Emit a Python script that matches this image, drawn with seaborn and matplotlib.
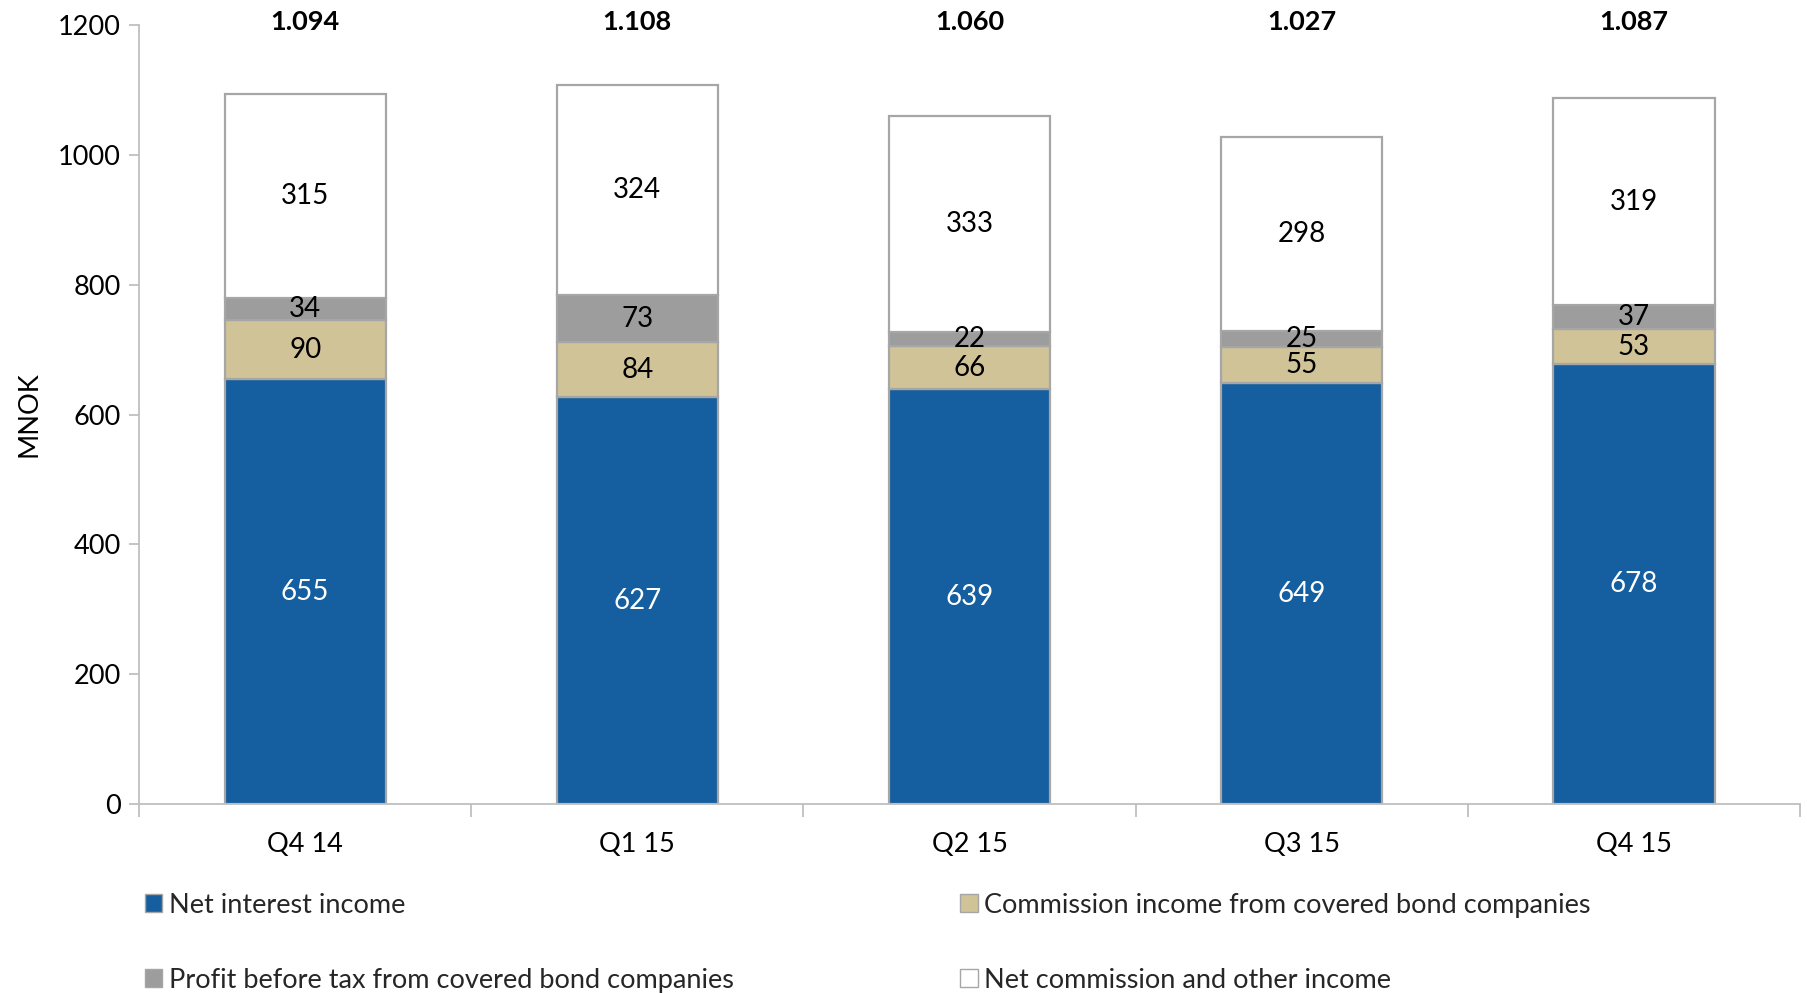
import matplotlib
matplotlib.use("Agg")
import matplotlib.pyplot as plt
import seaborn as sns
import numpy as np
import pandas as pd
from matplotlib.patches import Patch
from matplotlib.transforms import blended_transform_factory

categories = ["Q4 14", "Q1 15", "Q2 15", "Q3 15", "Q4 15"]
net_interest = [655, 627, 639, 649, 678]
commission_cb = [90, 84, 66, 55, 53]
profit_cb = [34, 73, 22, 25, 37]
net_commission = [315, 324, 333, 298, 319]

series_names = ["Net interest income",
                "Commission income from covered bond companies",
                "Profit before tax from covered bond companies",
                "Net commission and other income"]
series_values = [net_interest, commission_cb, profit_cb, net_commission]
colors = ["#155FA0", "#CFC397", "#9D9D9D", "#FFFFFF"]
label_colors = ["white", "black", "black", "black"]

sns.set_theme(style="white")
plt.rcParams['font.family'] = ['Lato', 'DejaVu Sans']

FS = 19.5

fig = plt.figure(figsize=(18.08, 9.93), dpi=100)
ax = fig.add_axes([0.0769, 0.190, 0.9187, 0.785])

edge = "#A6A6A6"
bottom = np.zeros(len(categories))
for name, vals, col, lc in zip(series_names, series_values, colors, label_colors):
    df = pd.DataFrame({"cat": categories, "val": vals})
    sns.barplot(data=df, x="cat", y="val", color=col, saturation=1, width=0.485,
                bottom=bottom, edgecolor=edge, linewidth=1.6, ax=ax, zorder=2)
    for i, v in enumerate(vals):
        ax.text(i, bottom[i] + v / 2, f"{v}", ha="center", va="center",
                fontsize=FS + 0.5, color=lc, zorder=5)
    bottom = bottom + np.array(vals)

totals = bottom
tr = blended_transform_factory(ax.transData, ax.transAxes)
for i, t in enumerate(totals):
    s = f"{int(t):,}".replace(",", ".")
    ax.text(i, 1.003, s, transform=tr, ha="center", va="center",
            fontsize=FS, fontweight="bold", color="black")

ax.set_ylim(0, 1200)
ax.set_xlim(-0.5, len(categories) - 0.5)
ax.set_yticks(np.arange(0, 1201, 200))
ax.set_ylabel("MNOK", fontsize=FS, color="black", labelpad=12)
ax.set_xlabel("")

for s in ["top", "right"]:
    ax.spines[s].set_visible(False)
for s in ["left", "bottom"]:
    ax.spines[s].set_color("#BFBFBF")
    ax.spines[s].set_linewidth(1.3)

ax.tick_params(axis="y", left=True, length=7, width=1.3, color="#BFBFBF",
               labelsize=FS, labelcolor="black", pad=6)
ax.set_xticks(range(len(categories)))
ax.set_xticklabels(categories)
ax.tick_params(axis="x", which="major", bottom=False, labelsize=FS,
               labelcolor="black", pad=14)
ax.set_xticks(np.arange(-0.5, len(categories)), minor=True)
ax.tick_params(axis="x", which="minor", bottom=True, length=9, width=1.3,
               color="#BFBFBF")
ax.grid(False)

handles = [Patch(facecolor=colors[0], edgecolor=edge, label=series_names[0]),
           Patch(facecolor=colors[2], edgecolor=edge, label=series_names[2]),
           Patch(facecolor=colors[1], edgecolor=edge, label=series_names[1]),
           Patch(facecolor=colors[3], edgecolor=edge, label=series_names[3])]
fig.legend(handles=handles, ncol=2, loc="upper left",
           bbox_to_anchor=(0.074, 0.112), frameon=False, fontsize=FS,
           handlelength=0.65, handleheight=0.65, handletextpad=0.25,
           labelspacing=1.85, columnspacing=8.35, borderaxespad=0)

fig.savefig("out.png", dpi=100)
